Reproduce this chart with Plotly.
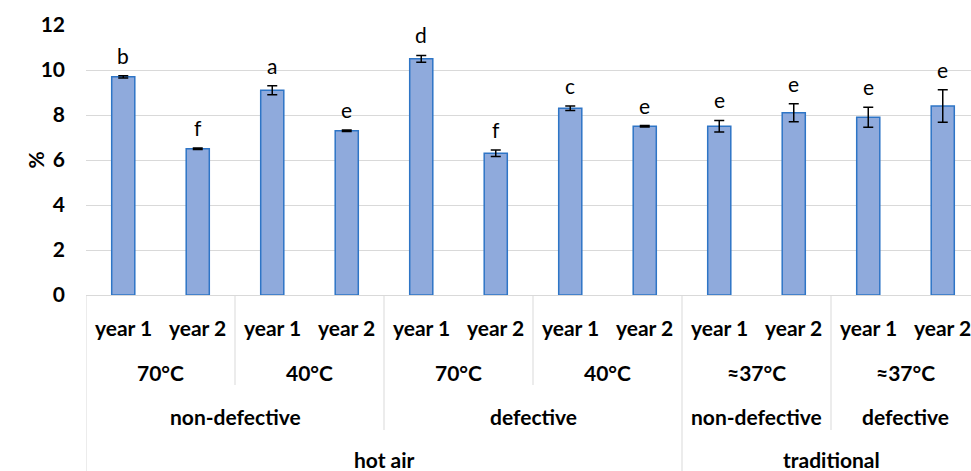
import plotly.graph_objects as go

# ---- data ----
method = ["hot air"] * 8 + ["traditional"] * 4
defect = ["non-defective"] * 4 + ["defective"] * 4 + ["non-defective"] * 2 + ["defective"] * 2
temp = ["70°C", "70°C", "40°C", "40°C", "70°C", "70°C", "40°C", "40°C",
        "≈37°C", "≈37°C", "≈37°C", "≈37°C"]
year = ["year 1", "year 2"] * 6
values = [9.7, 6.5, 9.1, 7.3, 10.5, 6.3, 8.3, 7.5, 7.5, 8.1, 7.9, 8.4]
errors = [0.05, 0.03, 0.2, 0.03, 0.15, 0.14, 0.1, 0.03, 0.26, 0.4, 0.44, 0.72]
letters = ["b", "f", "a", "e", "d", "f", "c", "e", "e", "e", "e", "e"]
y_ticks = [0, 2, 4, 6, 8, 10, 12]

# ---- layout constants (pixels) ----
W, H = 971, 471
L, T = 86, 25
plot_bottom = 295
cat_px = 74.5
plot_h = plot_bottom - T
plot_w = W - L
FONT = "Lato, Carlito, Calibri, sans-serif"

n = len(values)
xs = list(range(n))


def py(p):  # pixel y -> paper y
    return (plot_bottom - p) / plot_h


def px(p):  # pixel x -> paper x
    return (p - L) / plot_w


fig = go.Figure()
fig.add_trace(go.Bar(
    x=xs, y=values, width=0.31,
    marker=dict(color="#8faadc", line=dict(color="#2e75c6", width=1.5)),
    error_y=dict(type="data", array=errors, color="black", thickness=1.5, width=5),
    hoverinfo="skip",
))

annotations = []
shapes = []

# significance letters
for i in xs:
    annotations.append(dict(x=i, y=values[i] + errors[i], xref="x", yref="y",
                            text=letters[i], showarrow=False, yanchor="bottom",
                            yshift=6, font=dict(family=FONT, size=21, color="black")))

# hierarchical category axis
levels = [
    (year, 327, None),
    ([(m, d, t) for m, d, t in zip(method, defect, temp)], 372, 385),
    ([(m, d) for m, d in zip(method, defect)], 416, 430),
    (method, 459, H),
]
label_lists = [year, temp, defect, method]

drawn = {}
for li, (keys, ypix, sep_bottom) in enumerate(levels):
    labels = label_lists[li]
    start = 0
    for i in range(1, n + 1):
        if i == n or keys[i] != keys[start]:
            center = (start + i - 1) / 2
            annotations.append(dict(x=center, y=py(ypix), xref="x", yref="paper",
                                    text="<b>%s</b>" % labels[start], showarrow=False,
                                    yanchor="middle",
                                    font=dict(family=FONT, size=21, color="black")))
            if sep_bottom is not None:
                b = start - 0.5
                drawn[b] = max(drawn.get(b, 0), sep_bottom)
            start = i

for b, bottom in drawn.items():
    shapes.append(dict(type="line", xref="x", yref="paper", x0=b, x1=b,
                       y0=0, y1=py(bottom), line=dict(color="#d9d9d9", width=1)))

# y axis title
annotations.append(dict(x=px(20), y=0.5, xref="paper", yref="paper", text="<b>%</b>",
                        showarrow=False, textangle=-90,
                        font=dict(family=FONT, size=21, color="black")))

fig.update_layout(
    width=W, height=H,
    margin=dict(l=L, r=0, t=T, b=H - plot_bottom),
    paper_bgcolor="white", plot_bgcolor="white",
    showlegend=False,
    annotations=annotations, shapes=shapes,
    xaxis=dict(range=[-0.5, -0.5 + plot_w / cat_px], showticklabels=False,
               showgrid=False, zeroline=False, showline=True,
               linecolor="#d9d9d9", linewidth=1, fixedrange=True),
    yaxis=dict(range=[0, 12], tickvals=y_ticks, showgrid=True,
               gridcolor="#d9d9d9", gridwidth=1, zeroline=False, showline=False,
               ticks="", ticklabelstandoff=20,
               tickfont=dict(family=FONT, size=21, color="black", weight="bold"),
               fixedrange=True),
    font=dict(family=FONT),
)

fig.write_html("out.html", config={"displayModeBar": False},
               post_script="document.body.style.margin='0px';"
                           "document.body.style.overflow='hidden';")
